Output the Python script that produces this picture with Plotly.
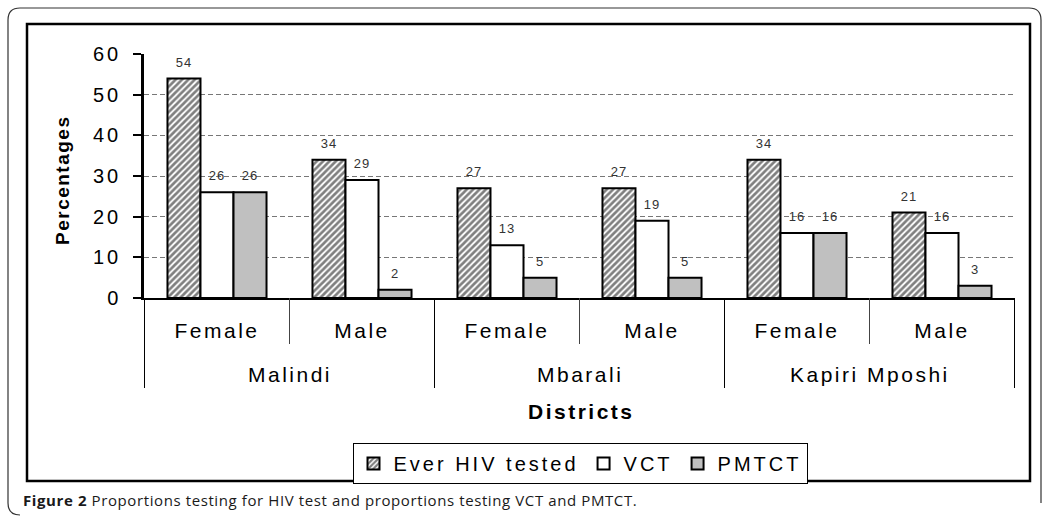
import plotly.graph_objects as go

districts = ["Malindi", "Malindi", "Mbarali", "Mbarali", "Kapiri Mposhi", "Kapiri Mposhi"]
sexes = ["Female", "Male", "Female", "Male", "Female", "Male"]
ever_tested = [54, 34, 27, 27, 34, 21]
vct = [26, 29, 13, 19, 16, 16]
pmtct = [26, 2, 5, 5, 16, 3]
y_ticks = [0, 10, 20, 30, 40, 50, 60]

W, H = 1046, 518
L, R, T, B = 144, 1015, 54, 298

categories = [f"{d} {s}" for d, s in zip(districts, sexes)]


def px(x):
    return (x - L) / (R - L)


def py(y):
    return (B - y) / (B - T)


def sp(text, ls):
    return f"<span style='letter-spacing:{ls}px'>{text}</span>"


FONT = "Liberation Sans, Arial, sans-serif"
label_tpl = "<span style='font-size:13px;letter-spacing:1px'>%{y}</span><br> "

fig = go.Figure()
common = dict(
    x=categories,
    textposition="outside",
    texttemplate=label_tpl,
    textfont=dict(family=FONT, size=6, color="#333333"),
    cliponaxis=False,
    marker_line=dict(color="black", width=2),
)
fig.add_trace(go.Bar(
    name=sp("Ever HIV tested", 3), y=ever_tested,
    marker=dict(color="white", pattern=dict(shape="/", fgcolor="black", bgcolor="white",
                                            size=4.5, solidity=0.6)),
    **common))
fig.add_trace(go.Bar(name=sp("VCT", 3), y=vct, marker=dict(color="white"), **common))
fig.add_trace(go.Bar(name=sp("PMTCT", 3), y=pmtct, marker=dict(color="#C0C0C0"), **common))

shapes = []
# inner frame
shapes.append(dict(type="rect", xref="paper", yref="paper",
                   x0=px(27), x1=px(1030), y0=py(481), y1=py(24),
                   line=dict(color="black", width=2.5), layer="below"))
# outer rounded frame
r = 12
x0, x1, y0, y1 = 8, 1041, 8, 515
path = (f"M {px(x0)} {py(y0 + r)} L {px(x0)} {py(y1 - r)} Q {px(x0)} {py(y1)} {px(x0 + r)} {py(y1)} "
        f"M {px(x0)} {py(y0 + r)} Q {px(x0)} {py(y0)} {px(x0 + r)} {py(y0)} L {px(x1 - r)} {py(y0)} "
        f"Q {px(x1)} {py(y0)} {px(x1)} {py(y0 + r)} L {px(x1)} {py(y1 - r)}")
shapes.append(dict(type="path", xref="paper", yref="paper", path=path,
                   line=dict(color="#333333", width=1.2), layer="below"))
# category separators below the axis
n = len(categories)
for i in range(n + 1):
    b = i - 0.5
    outer = (i == 0 or i == n or districts[i - 1] != districts[i])
    shapes.append(dict(type="line", xref="x", yref="paper", x0=b, x1=b,
                       y0=py(298), y1=py(388 if outer else 344),
                       line=dict(color="black" if outer else "#444444", width=1)))

annotations = [
    dict(text=sp("<b>Percentages</b>", 1.5), xref="paper", yref="paper", x=px(62), y=py(180),
         xanchor="center", yanchor="middle",
         showarrow=False, textangle=-90, font=dict(family=FONT, size=19, color="black")),
    dict(text=sp("<b>Districts</b>", 2.5), xref="paper", yref="paper", x=px(581), y=py(411),
         xanchor="center", yanchor="middle",
         showarrow=False, font=dict(family=FONT, size=21, color="black")),
    dict(text=sp("<b>Figure 2</b> Proportions testing for HIV test and proportions testing VCT and PMTCT.", 0.6),
         xref="paper", yref="paper", x=px(21), y=py(500), xanchor="left", yanchor="middle",
         showarrow=False, font=dict(family="Open Sans, sans-serif", size=15, color="#1a1a1a")),
]
# district labels centred under their categories
seen = []
for d in districts:
    if d not in seen:
        seen.append(d)
for d in seen:
    idx = [i for i, dd in enumerate(districts) if dd == d]
    annotations.append(dict(text=sp(d, 2.5), xref="x", yref="paper", x=sum(idx) / len(idx),
                            y=py(374), xanchor="center", yanchor="middle", showarrow=False,
                            font=dict(family=FONT, size=21, color="black")))

fig.update_layout(
    width=W, height=H,
    margin=dict(l=L, r=W - R, t=T, b=H - B, autoexpand=False),
    paper_bgcolor="white", plot_bgcolor="white",
    barmode="group", bargap=0.317, bargroupgap=0,
    font=dict(family=FONT, color="black"),
    shapes=shapes, annotations=annotations,
    legend=dict(orientation="h", x=px(580), xanchor="center", y=py(443), yanchor="top",
                bordercolor="black", borderwidth=1, bgcolor="white",
                font=dict(family=FONT, size=20, color="black"),
                itemwidth=30, tracegroupgap=0),
    showlegend=True,
)
fig.update_yaxes(range=[0, 60], tickvals=y_ticks, ticktext=[sp(v, 3) for v in y_ticks],
                 showline=True, linecolor="black", linewidth=2.5,
                 ticks="outside", ticklen=8, tickcolor="black", tickwidth=2,
                 ticklabelstandoff=8,
                 showgrid=True, gridcolor="#777777", griddash="5px,3px", gridwidth=1,
                 zeroline=False, tickfont=dict(family=FONT, size=20, color="black"))
fig.update_xaxes(type="category", categoryarray=categories, categoryorder="array",
                 tickvals=categories, ticktext=[sp(s, 2.5) for s in sexes],
                 showline=True, linecolor="black", linewidth=1.5, ticks="",
                 ticklabelstandoff=13, showgrid=False,
                 tickfont=dict(family=FONT, size=21, color="black"))

fig.write_html("out.html", config={"displayModeBar": False},
               post_script="document.body.style.margin='0';")
